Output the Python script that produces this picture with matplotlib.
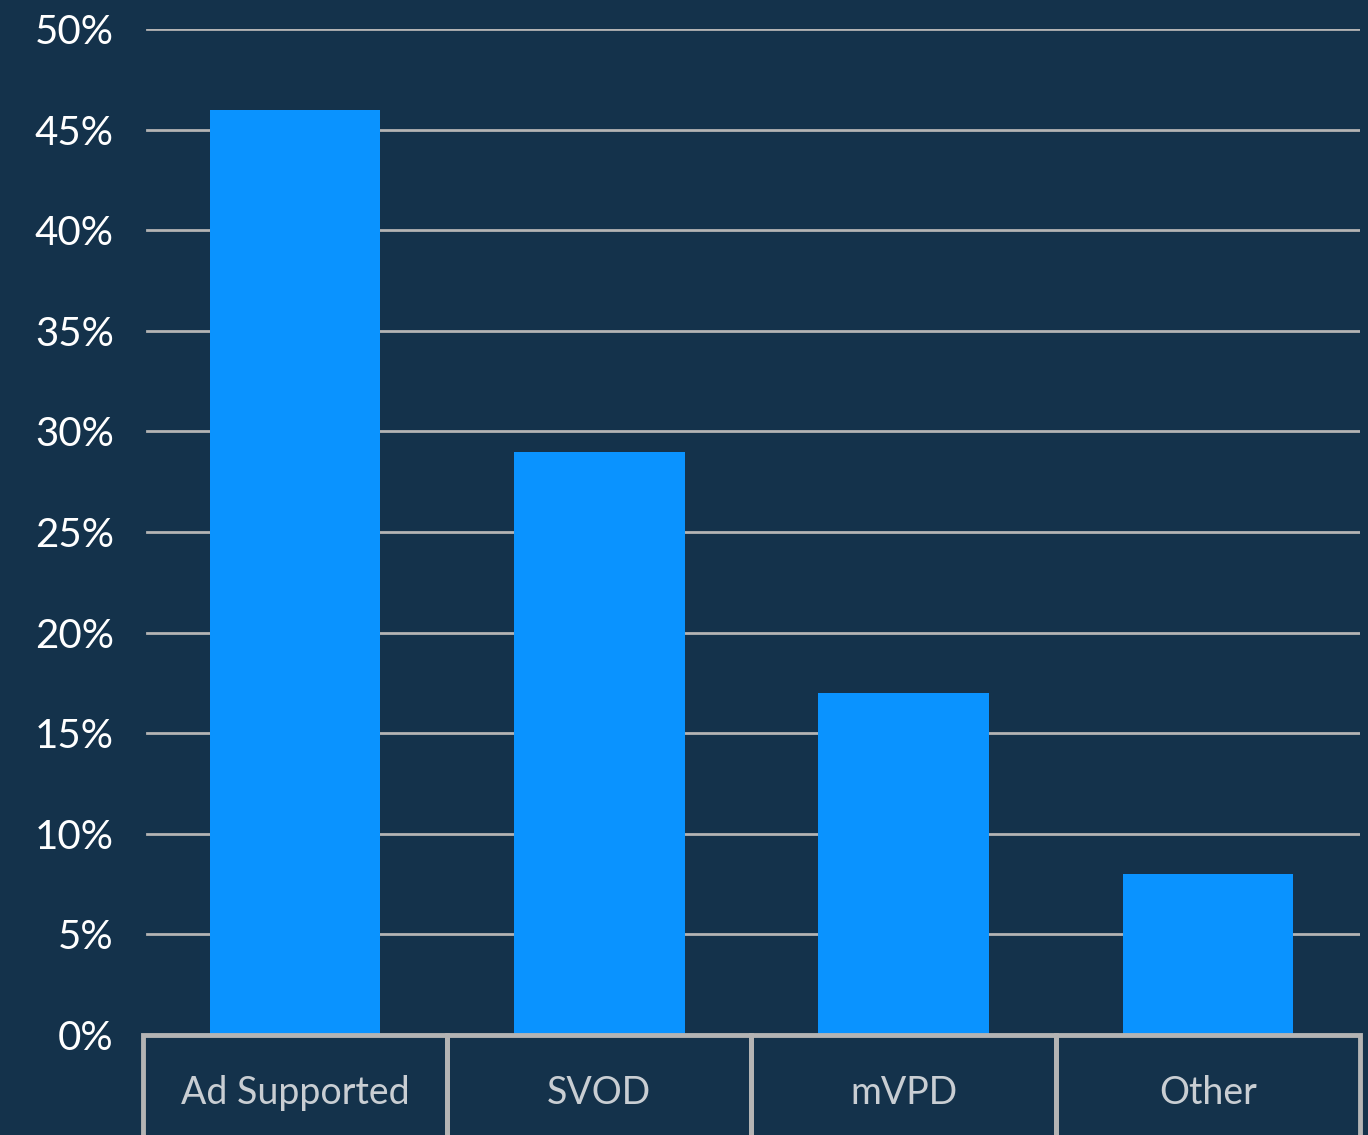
import matplotlib.pyplot as plt
from matplotlib.patches import Rectangle

categories = ['Ad Supported', 'SVOD', 'mVPD', 'Other']
shares = [46, 29, 17, 8]
yticks = [0, 5, 10, 15, 20, 25, 30, 35, 40, 45, 50]

bg = '#14324B'
bar_color = '#0A93FF'
grid_color = '#B4B4B4'

plt.rcParams['font.family'] = ['Lato', 'DejaVu Sans']

fig = plt.figure(figsize=(13.68, 11.35), dpi=100, facecolor=bg)
ax = fig.add_axes([0.1045, 0.0881, 0.8896, 0.8863], facecolor=bg)

x = range(len(categories))
ax.bar(x, shares, width=0.56, color=bar_color, zorder=3)

ax.set_xlim(-0.5, len(categories) - 0.5)
ax.set_ylim(0, 50)
ax.set_yticks(yticks)
ax.set_yticklabels([f'{v}%' for v in yticks])
ax.tick_params(axis='y', length=0, pad=21, labelsize=29, labelcolor='white')
ax.set_xticks([])

for v in yticks[1:]:
    ax.axhline(v, xmin=0.003, color=grid_color, lw=2, zorder=1)

for s in ax.spines.values():
    s.set_visible(False)

# boxed category labels under the axis
trans = ax.get_xaxis_transform()
for i, name in enumerate(categories):
    ax.add_patch(Rectangle((i - 0.5, -0.2), 1, 0.2, transform=trans,
                           facecolor='none', edgecolor=grid_color, lw=3.5,
                           clip_on=False, zorder=4))
    ax.text(i, -0.058, name, transform=trans, ha='center', va='center',
            fontsize=27, color='#C9CED3', clip_on=False, zorder=5)

fig.savefig('out.png', dpi=100, facecolor=bg)
